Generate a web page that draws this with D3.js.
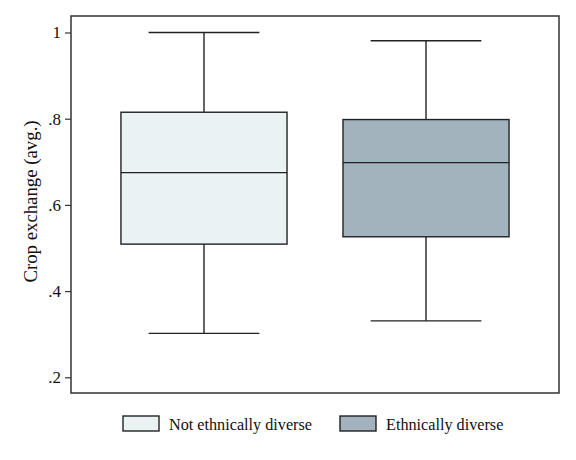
<!DOCTYPE html>
<html>
<head>
<meta charset="utf-8">
<script src="https://cdn.jsdelivr.net/npm/d3@7"></script>
<style>
  body { margin: 0; background: #fff; }
  text { font-family: "Liberation Serif", "DejaVu Serif", serif; fill: #111; }
</style>
</head>
<body>
<script>
// Data
const groups = ["Not ethnically diverse", "Ethnically diverse"];
const whiskerLow = [0.302, 0.331];
const q1 = [0.509, 0.526];
const median = [0.675, 0.698];
const q3 = [0.815, 0.798];
const whiskerHigh = [1.0, 0.981];
const fills = ["#eaf2f4", "#a3b3be"];
const yTicks = [0.2, 0.4, 0.6, 0.8, 1];
const yLabel = "Crop exchange (avg.)";

// Layout
const width = 576, height = 460;
const plot = { left: 71, right: 559, top: 16, bottom: 393 };

const svg = d3.select("body").append("svg")
  .attr("width", width)
  .attr("height", height);

// Scales
const x = d3.scaleBand().domain(groups)
  .range([plot.left, plot.right])
  .paddingInner(0.252)
  .paddingOuter(0.225);
const y = d3.scaleLinear().domain([0.2, 1]).range([377.3, 32.5]);

// Frame
svg.append("rect")
  .attr("x", plot.left).attr("y", plot.top)
  .attr("width", plot.right - plot.left).attr("height", plot.bottom - plot.top)
  .attr("fill", "none").attr("stroke", "#333").attr("stroke-width", 1.5);

// Y axis
const yAxis = svg.append("g")
  .attr("transform", `translate(${plot.left},0)`)
  .call(d3.axisLeft(y).tickValues(yTicks).tickSize(6).tickPadding(4)
    .tickFormat(d => d === 1 ? "1" : d3.format(".1f")(d).replace(/^0/, "")));
yAxis.select(".domain").remove();
yAxis.selectAll(".tick line").attr("stroke", "#333").attr("stroke-width", 1.2);
yAxis.selectAll(".tick text")
  .attr("font-family", "Liberation Serif, serif")
  .attr("font-size", 17).attr("fill", "#111");

svg.append("text")
  .attr("transform", `translate(37, ${(118 + 285) / 2}) rotate(-90)`)
  .attr("text-anchor", "middle")
  .attr("font-size", 18.8)
  .text(yLabel);

// Boxes
const boxes = svg.append("g").selectAll("g")
  .data(groups)
  .join("g");

const cx = d => x(d) + x.bandwidth() / 2;
const capHalf = x.bandwidth() / 3;

// whiskers
boxes.append("line")
  .attr("x1", cx).attr("x2", cx)
  .attr("y1", (d, i) => y(whiskerHigh[i])).attr("y2", (d, i) => y(q3[i]))
  .attr("stroke", "#222").attr("stroke-width", 1.4);
boxes.append("line")
  .attr("x1", cx).attr("x2", cx)
  .attr("y1", (d, i) => y(q1[i])).attr("y2", (d, i) => y(whiskerLow[i]))
  .attr("stroke", "#222").attr("stroke-width", 1.4);
// caps
boxes.append("line")
  .attr("x1", d => cx(d) - capHalf).attr("x2", d => cx(d) + capHalf)
  .attr("y1", (d, i) => y(whiskerHigh[i])).attr("y2", (d, i) => y(whiskerHigh[i]))
  .attr("stroke", "#222").attr("stroke-width", 1.4);
boxes.append("line")
  .attr("x1", d => cx(d) - capHalf).attr("x2", d => cx(d) + capHalf)
  .attr("y1", (d, i) => y(whiskerLow[i])).attr("y2", (d, i) => y(whiskerLow[i]))
  .attr("stroke", "#222").attr("stroke-width", 1.4);
// box
boxes.append("rect")
  .attr("x", d => x(d))
  .attr("y", (d, i) => y(q3[i]))
  .attr("width", x.bandwidth())
  .attr("height", (d, i) => y(q1[i]) - y(q3[i]))
  .attr("fill", (d, i) => fills[i])
  .attr("stroke", "#222").attr("stroke-width", 1.4);
// median
boxes.append("line")
  .attr("x1", d => x(d)).attr("x2", d => x(d) + x.bandwidth())
  .attr("y1", (d, i) => y(median[i])).attr("y2", (d, i) => y(median[i]))
  .attr("stroke", "#222").attr("stroke-width", 1.4);

// Legend
const legendX = [123, 340];
const legend = svg.append("g").selectAll("g")
  .data(groups)
  .join("g")
  .attr("transform", (d, i) => `translate(${legendX[i]}, 416)`);
legend.append("rect")
  .attr("width", 36).attr("height", 15)
  .attr("fill", (d, i) => fills[i])
  .attr("stroke", "#222").attr("stroke-width", 1.4);
legend.append("text")
  .attr("x", 46).attr("y", 13.5)
  .attr("font-size", 16.2)
  .text(d => d);
</script>
</body>
</html>
